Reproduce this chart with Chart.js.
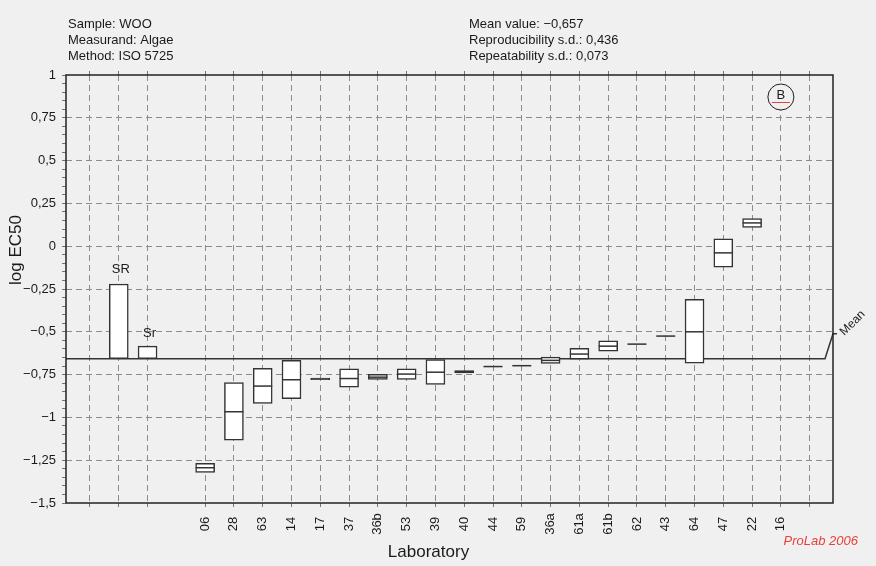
<!DOCTYPE html>
<html>
<head>
<meta charset="utf-8">
<script src="https://cdn.jsdelivr.net/npm/chart.js@4.4.0/dist/chart.umd.min.js"></script>
<style>
html, body { margin: 0; padding: 0; background: #f0f0f0; }
</style>
</head>
<body>
<canvas id="chart" width="876" height="566"></canvas>
<script>
// laboratories in plot order
const labs = ['06', '28', '63', '14', '17', '37', '36b', '53', '39', '40', '44',
              '59', '36a', '61a', '61b', '62', '43', '64', '47', '22', '16'];
// box bottom / top (null = single value only)
const boxLow  = [-1.321, -1.133, -0.918, -0.891, -0.779, -0.823, -0.778, -0.778, -0.807, -0.740, null,
                 null, -0.685, -0.660, -0.613, null, null, -0.683, -0.123, 0.109, null];
const boxHigh = [-1.269, -0.796, -0.714, -0.667, -0.771, -0.716, -0.749, -0.716, -0.662, -0.726, null,
                 null, -0.648, -0.597, -0.553, null, null, -0.311, 0.043, 0.162, null];
// line inside each box
const centre  = [-1.294, -0.967, -0.817, -0.780, -0.775, -0.773, -0.765, -0.747, -0.736, -0.733, -0.703,
                 -0.698, -0.667, -0.630, -0.584, -0.572, -0.525, -0.500, -0.039, 0.136, null];
// labs outside the scale, shown with the B symbol
const beyondScale = ['16'];

const meanValue = -0.657;
const sdReprod = 0.436;
const sdRepeat = 0.073;

const yTicksMajor = [-1.5, -1.25, -1, -0.75, -0.5, -0.25, 0, 0.25, 0.5, 0.75, 1];
const headerLeft = ['Sample: WOO', 'Measurand: Algae', 'Method: ISO 5725'];
const headerRight = ['Mean value: \u22120,657', 'Reproducibility s.d.: 0,436', 'Repeatability s.d.: 0,073'];

const FONT = '"Liberation Sans", Arial, Helvetica, sans-serif';
const INK = '#1a1a1a';
const firstLab = 4;           // slot of the first laboratory
const slotSR = 1, slotSr = 2; // slots of the s.d. bars
const lastSlot = firstLab + labs.length; // empty slot at the right

const slotTicks = [];
for (let i = 0; i <= lastSlot; i++) if (i !== 3) slotTicks.push(i);

const yTicksAll = [];
for (let k = -150; k <= 100; k += 5) yTicksAll.push(k / 100);

function fmt(v) {
    const r = Math.round(v * 100) / 100;
    return (r < 0 ? '\u2212' : '') + String(Math.abs(r)).replace('.', ',');
}
function isMajor(v) {
    return yTicksMajor.some(m => Math.abs(m - v) < 1e-6);
}

const boxData = [
    { x: slotSR, y: [meanValue, meanValue + sdReprod] },
    { x: slotSr, y: [meanValue, meanValue + sdRepeat] }
];
labs.forEach((l, i) => {
    if (boxLow[i] !== null) boxData.push({ x: firstLab + i, y: [boxLow[i], boxHigh[i]] });
});
const centreData = [];
labs.forEach((l, i) => {
    if (centre[i] !== null) centreData.push({ x: firstLab + i, y: centre[i] });
});

const decor = {
    id: 'decor',
    beforeDraw(chart) {
        const ctx = chart.ctx;
        ctx.save();
        ctx.fillStyle = '#f0f0f0';
        ctx.fillRect(0, 0, chart.width, chart.height);
        ctx.restore();
    },
    beforeDatasetsDraw(chart) {
        const { ctx, chartArea: a, scales: { y } } = chart;
        const ym = y.getPixelForValue(meanValue);
        ctx.save();
        ctx.strokeStyle = '#333';
        ctx.lineWidth = 1.5;
        ctx.beginPath();
        ctx.moveTo(a.left, ym);
        ctx.lineTo(a.right - 8, ym);
        ctx.lineTo(a.right, ym - 25);
        ctx.lineTo(a.right + 4, ym - 25);
        ctx.stroke();
        ctx.translate(a.right + 9, ym - 25);
        ctx.rotate(-Math.PI / 4);
        ctx.fillStyle = INK;
        ctx.font = '12px ' + FONT;
        ctx.textBaseline = 'middle';
        ctx.textAlign = 'left';
        ctx.fillText('Mean', 0, 0);
        ctx.restore();
    },
    afterDatasetsDraw(chart) {
        const { ctx, chartArea: a, scales: { x, y } } = chart;
        ctx.save();
        // frame
        ctx.strokeStyle = '#222';
        ctx.lineWidth = 1.5;
        ctx.strokeRect(a.left, a.top, a.right - a.left, a.bottom - a.top);

        ctx.fillStyle = INK;
        ctx.font = '13px ' + FONT;
        ctx.textAlign = 'center';
        ctx.textBaseline = 'alphabetic';
        ctx.fillText('SR', x.getPixelForValue(slotSR) + 2, y.getPixelForValue(meanValue + sdReprod) - 11);
        ctx.fillText('Sr', x.getPixelForValue(slotSr) + 2, y.getPixelForValue(meanValue + sdRepeat) - 9);

        // B symbol for labs beyond the scale
        beyondScale.forEach(l => {
            const bx = x.getPixelForValue(firstLab + labs.indexOf(l));
            const by = a.top + 22;
            ctx.fillStyle = '#f0f0f0';
            ctx.strokeStyle = '#222';
            ctx.lineWidth = 1;
            ctx.beginPath();
            ctx.arc(bx, by, 13, 0, Math.PI * 2);
            ctx.fill();
            ctx.stroke();
            ctx.fillStyle = INK;
            ctx.textBaseline = 'middle';
            ctx.fillText('B', bx, by - 2);
            ctx.strokeStyle = '#e8413c';
            ctx.beginPath();
            ctx.moveTo(bx - 9, by + 5.5);
            ctx.lineTo(bx + 9, by + 5.5);
            ctx.stroke();
        });

        // lab labels
        ctx.fillStyle = INK;
        ctx.font = '13px ' + FONT;
        ctx.textBaseline = 'middle';
        ctx.textAlign = 'center';
        labs.forEach((l, i) => {
            ctx.save();
            ctx.translate(x.getPixelForValue(firstLab + i), a.bottom + 21);
            ctx.rotate(-Math.PI / 2);
            ctx.fillText(l, 0, 0);
            ctx.restore();
        });

        // titles
        ctx.font = '17px ' + FONT;
        ctx.fillText('Laboratory', 428.5, 552);
        ctx.save();
        ctx.translate(16, 250);
        ctx.rotate(-Math.PI / 2);
        ctx.fillText('log EC50', 0, 0);
        ctx.restore();

        // header
        ctx.font = '13px ' + FONT;
        ctx.textAlign = 'left';
        headerLeft.forEach((t, i) => ctx.fillText(t, 68, 24.3 + i * 16.2));
        headerRight.forEach((t, i) => ctx.fillText(t, 469, 24.3 + i * 16.2));

        ctx.fillStyle = '#e8413c';
        ctx.font = 'italic 13px ' + FONT;
        ctx.textAlign = 'right';
        ctx.fillText('ProLab 2006', 858, 541);
        ctx.restore();
    }
};

const slotAxis = {
    type: 'linear',
    min: -0.833,
    max: 25.81,
    offset: false,
    afterBuildTicks: s => { s.ticks = slotTicks.map(v => ({ value: v })); },
    ticks: { display: false }
};

new Chart(document.getElementById('chart'), {
    type: 'bar',
    data: {
        datasets: [
            {
                type: 'scatter',
                data: centreData,
                pointStyle: 'line',
                pointRadius: 9.5,
                pointBorderWidth: 1.5,
                borderColor: '#333',
                backgroundColor: '#333',
                order: 0
            },
            {
                data: boxData,
                backgroundColor: '#ffffff',
                borderColor: '#333',
                borderWidth: 1.5,
                borderSkipped: false,
                barThickness: 19,
                order: 1
            }
        ]
    },
    options: {
        responsive: false,
        animation: false,
        devicePixelRatio: 1,
        layout: { padding: { top: 71, right: 43, bottom: 59, left: 0 } },
        plugins: { legend: { display: false }, tooltip: { enabled: false } },
        scales: {
            x: {
                ...slotAxis,
                position: 'bottom',
                grid: {
                    offset: false,
                    color: '#8c8c8c',
                    lineWidth: 1,
                    tickLength: 4,
                    tickColor: '#777',
                    tickBorderDash: []
                },
                border: { display: false, dash: [6, 4] }
            },
            x2: {
                ...slotAxis,
                position: 'top',
                grid: { offset: false, drawOnChartArea: false, tickLength: 4, tickColor: '#777' },
                border: { display: false }
            },
            y: {
                min: -1.5,
                max: 1,
                afterBuildTicks: s => { s.ticks = yTicksAll.map(v => ({ value: v })); },
                afterFit: s => { s.width = 66; },
                ticks: {
                    autoSkip: false,
                    padding: 6,
                    color: INK,
                    font: { family: FONT, size: 13 },
                    callback: v => isMajor(v) ? fmt(v) : ''
                },
                grid: {
                    color: ctx => (ctx.tick && isMajor(ctx.tick.value) && ctx.tick.value > -1.49 && ctx.tick.value < 0.99) ? '#8c8c8c' : 'rgba(0,0,0,0)',
                    lineWidth: 1,
                    tickLength: 4,
                    tickColor: '#777',
                    tickBorderDash: []
                },
                border: { display: false, dash: [6, 4] }
            }
        }
    },
    plugins: [decor]
});
</script>
</body>
</html>
